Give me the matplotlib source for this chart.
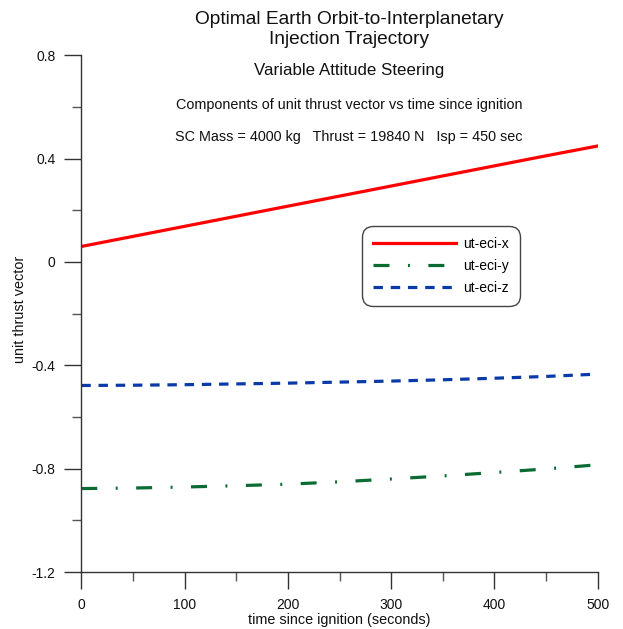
import matplotlib
matplotlib.use("Agg")
import matplotlib.pyplot as plt
from matplotlib.ticker import MultipleLocator

plt.rcParams["font.family"] = ["Liberation Sans", "DejaVu Sans"]
plt.rcParams["lines.scale_dashes"] = False

# data
t_sec = [0, 50, 100, 150, 200, 250, 300, 350, 400, 450, 500]
ut_eci_x = [0.060, 0.099, 0.138, 0.177, 0.216, 0.255, 0.294, 0.333, 0.372, 0.411, 0.449]
ut_eci_y = [-0.877, -0.875, -0.871, -0.866, -0.860, -0.851, -0.840, -0.828, -0.815, -0.801, -0.785]
ut_eci_z = [-0.478, -0.477, -0.475, -0.472, -0.469, -0.465, -0.461, -0.456, -0.450, -0.443, -0.434]
series_labels = ["ut-eci-x", "ut-eci-y", "ut-eci-z"]
y_ticks = [-1.2, -0.8, -0.4, 0, 0.4, 0.8]
y_ticklabels = ["-1.2", "-0.8", "-0.4", "0", "0.4", "0.8"]

W, H = 623, 629
fig = plt.figure(figsize=(W / 100, H / 100), dpi=100)
ax_w = (597.7 - 81.3)
ax_hp = (572 - 55.3)
ax = fig.add_axes([81.3 / W, 1 - 572 / H, ax_w / W, ax_hp / H])

ax.plot(t_sec, ut_eci_x, color="#ff0000", lw=2.3, label=series_labels[0])
ax.plot(t_sec, ut_eci_y, color="#0a6b33", lw=2.3, label=series_labels[1],
        dashes=(11.5, 13.3, 1.4, 13.3), dash_capstyle="butt")
ax.plot(t_sec, ut_eci_z, color="#0a3aa8", lw=2.3, label=series_labels[2],
        dashes=(6.8, 5.6), dash_capstyle="butt")

ax.set_xlim(0, 500)
ax.set_ylim(-1.2, 0.8)
ax.xaxis.set_major_locator(MultipleLocator(100))
ax.xaxis.set_minor_locator(MultipleLocator(50))
ax.set_yticks(y_ticks)
ax.set_yticklabels(y_ticklabels)
ax.yaxis.set_minor_locator(MultipleLocator(0.2))

for s in ["top", "right"]:
    ax.spines[s].set_visible(False)
for s in ["left", "bottom"]:
    ax.spines[s].set_color("#333333")
    ax.spines[s].set_linewidth(1.0)

ax.tick_params(which="major", direction="out", length=12.5, width=1.0, color="#333333",
               labelsize=10, labelcolor="#111111", pad=6)
ax.tick_params(which="minor", direction="out", length=6.5, width=1.0, color="#555555")

ax.set_xlabel("time since ignition (seconds)", fontsize=10.4, color="#111111")
ax.set_ylabel("unit thrust vector", fontsize=10.4, color="#111111")
ax.xaxis.set_label_coords(0.5, -(620 - 572) / ax_hp)
ax.xaxis.label.set_va("center")
ax.yaxis.set_label_coords(-(81.3 - 20) / ax_w, 0.509)
ax.yaxis.label.set_va("center")

leg = ax.legend(loc="upper left", bbox_to_anchor=((362 - 81.3) / ax_w, 1 - (226 - 55.3) / ax_hp),
                borderaxespad=0, fontsize=10, handlelength=6.0, handletextpad=0.5,
                labelspacing=0.58, borderpad=0.8, fancybox=True, framealpha=1,
                edgecolor="#444444")
leg.get_frame().set_linewidth(1.0)
leg.get_frame().set_boxstyle("round", pad=0, rounding_size=0.8)

cx = 349 / W
fig.text(cx, 1 - 19.5 / H, "Optimal Earth Orbit-to-Interplanetary", ha="center", va="center",
         fontsize=13.8, color="#111111")
fig.text(cx, 1 - 40 / H, "Injection Trajectory", ha="center", va="center",
         fontsize=13.8, color="#111111")
fig.text(cx, 1 - 71 / H, "Variable Attitude Steering", ha="center", va="center",
         fontsize=12.2, color="#111111")
fig.text(cx, 1 - 105 / H, "Components of unit thrust vector vs time since ignition",
         ha="center", va="center", fontsize=10.4, color="#111111")
fig.text(cx, 1 - 137 / H, "SC Mass = 4000 kg   Thrust = 19840 N   Isp = 450 sec",
         ha="center", va="center", fontsize=10.4, color="#111111")

fig.savefig("out.png", dpi=100)
